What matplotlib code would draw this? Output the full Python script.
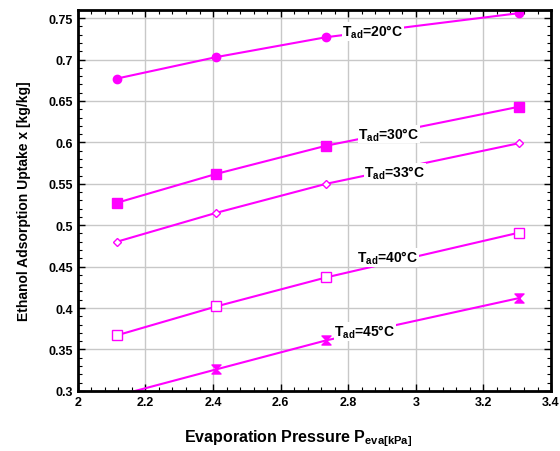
import matplotlib
matplotlib.use("Agg")
import matplotlib.pyplot as plt
import numpy as np
from matplotlib.path import Path
from matplotlib.ticker import MultipleLocator

plt.rcParams["font.family"] = ["Liberation Sans", "DejaVu Sans"]
plt.rcParams["font.weight"] = "bold"
plt.rcParams["mathtext.fontset"] = "custom"
plt.rcParams["mathtext.rm"] = "Liberation Sans:bold"
plt.rcParams["mathtext.it"] = "Liberation Sans:bold"
plt.rcParams["mathtext.bf"] = "Liberation Sans:bold"

## Evaporation pressure (kPa)
p_eva = [2.115, 2.41, 2.735, 3.305]

## Uptake for each adsorption temperature (kg/kg)
x_20 = [0.677, 0.703, 0.727, 0.756]
x_30 = [0.527, 0.562, 0.596, 0.643]
x_33 = [0.480, 0.515, 0.550, 0.599]
x_40 = [0.367, 0.402, 0.437, 0.491]
x_45 = [0.294, 0.326, 0.361, 0.412]

labels = ["20", "30", "33", "40", "45"]
label_pos = [(2.873, 0.734), (2.92, 0.610), (2.938, 0.564), (2.916, 0.4615), (2.849, 0.372)]

# hourglass marker
hourglass = Path([(-1, 1), (1, 1), (-1, -1), (1, -1), (-1, 1)],
                 [Path.MOVETO, Path.LINETO, Path.LINETO, Path.LINETO, Path.CLOSEPOLY])

col = "#ff00ff"
fig = plt.figure(figsize=(5.6, 4.52), dpi=100)
ax = fig.add_axes([0.139, 0.133, 0.845, 0.843])

ax.plot(p_eva, x_20, "-o", color=col, lw=1.5, ms=6)
ax.plot(p_eva, x_30, "-s", color=col, lw=1.5, ms=6.5)
ax.plot(p_eva, x_33, "-D", color=col, lw=1.5, ms=4.5, mfc="white")
ax.plot(p_eva, x_40, "-s", color=col, lw=1.5, ms=7, mfc="white", mew=1.0)
ax.plot(p_eva, x_45, "-", color=col, lw=1.5, marker=hourglass, ms=6.5, mew=1.0)

for t, (px, py) in zip(labels, label_pos):
    ax.text(px, py, r"T$_{\mathrm{ad}}$=" + t + "°C", fontsize=10, fontweight="bold",
            ha="center", va="center",
            bbox=dict(facecolor="white", edgecolor="none", pad=0.5))

ax.set_xlim(2, 3.4)
ax.set_ylim(0.3, 0.76)
ax.xaxis.set_major_locator(MultipleLocator(0.2))
ax.xaxis.set_minor_locator(MultipleLocator(0.04))
ax.yaxis.set_major_locator(MultipleLocator(0.05))
ax.yaxis.set_minor_locator(MultipleLocator(0.01))
ax.xaxis.set_major_formatter(plt.FuncFormatter(lambda v, p: f"{v:g}"))
ax.yaxis.set_major_formatter(plt.FuncFormatter(lambda v, p: f"{v:g}"))

ax.grid(which="major", color="#c8c8c8", lw=1.0)
ax.set_axisbelow(True)
ax.tick_params(which="both", direction="in", top=True, right=True, labelsize=9)
ax.tick_params(which="major", length=5, width=1)
ax.tick_params(which="minor", length=3, width=0.8)
for lbl in ax.get_xticklabels() + ax.get_yticklabels():
    lbl.set_fontweight("bold")
for s in ax.spines.values():
    s.set_linewidth(2)

ax.set_xlabel(r"Evaporation Pressure P$_{\mathrm{eva[kPa]}}$", fontsize=11.5, fontweight="bold")
ax.xaxis.set_label_coords(0.465, -0.095)
ax.set_ylabel("Ethanol Adsorption Uptake x [kg/kg]", fontsize=10, fontweight="bold")
ax.yaxis.set_label_coords(-0.1, 0.5)

fig.savefig("out.png", dpi=100)
